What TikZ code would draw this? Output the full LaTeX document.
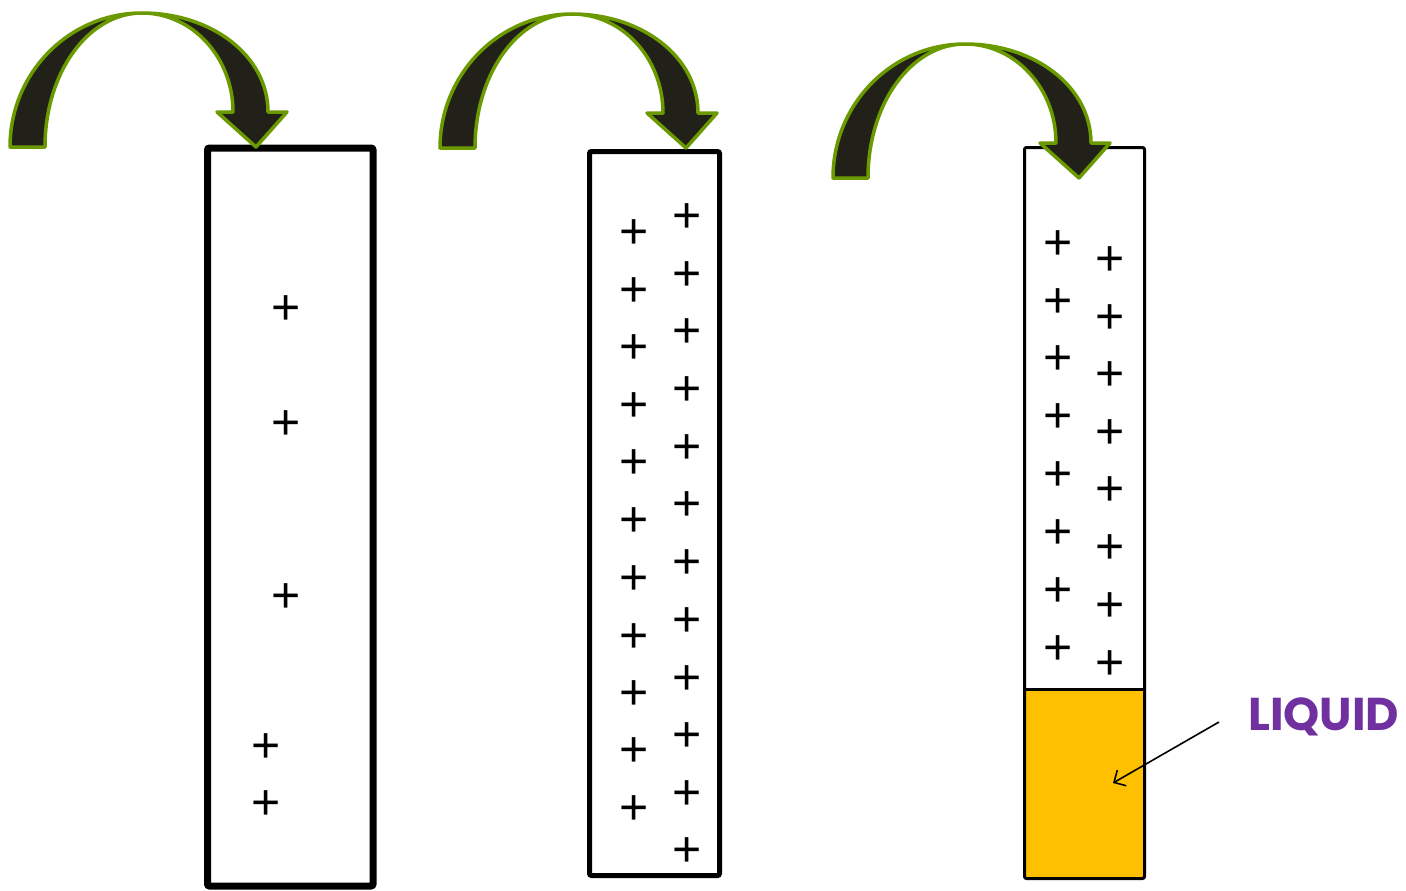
\documentclass[tikz,border=0pt]{standalone}
\usepackage{fontspec}
\setmainfont{Liberation Sans}
\newfontfamily\lqfont{Poppins}
\usetikzlibrary{arrows.meta}
\definecolor{arrowfill}{HTML}{21211A}
\definecolor{arrowedge}{HTML}{6A9A00}
\definecolor{liquidc}{HTML}{FFC000}
\definecolor{labelc}{HTML}{7030A0}
\tikzset{
  bigarrow/.pic={
    \draw[fill=arrowfill,draw=arrowedge,line width=3.5pt,line join=round]
      (10,147) .. controls (10,73) and (69,13) .. (142,13)
      .. controls (212,13) and (268,56) .. (268,112)
      -- (287,112) -- (256,147) -- (217,112) -- (233,112)
      .. controls (233,57) and (192,13) .. (142,13)
      .. controls (88,13) and (45,73) .. (45,147) -- cycle;
  },
  plussign/.style={font=\fontsize{50}{50}\selectfont, inner sep=0pt, anchor=center, yshift=-2pt},
  tube/.style={draw=black, rounded corners=2pt, inner sep=0pt, fill=white},
}
\begin{document}
\begin{tikzpicture}[x=1pt,y=-1pt]
\useasboundingbox[fill=white] (0,0) rectangle (1406,891);
% tubes
\node[tube, line width=7pt, minimum width=165.5pt, minimum height=738pt] (tube1) at (290.25,517) {};
\node[tube, line width=5pt, minimum width=130pt, minimum height=724pt] (tube2) at (654.5,513.5) {};
\node[fill=liquidc, inner sep=0pt, minimum width=120pt, minimum height=188.5pt] (liq) at (1084.5,784.25) {};
\node[tube, fill=none, line width=3pt, minimum width=120pt, minimum height=731pt] (tube3) at (1084.5,513) {};
\draw[line width=3pt] (liq.north west) -- (liq.north east);
% plus signs, tube 1
\foreach \x/\y [count=\i] in {286/308,286/423,286/596,266/746,266/803}
  \node[plussign] (a\i) at (\x,\y) {+};
% tube 2
\foreach \y [count=\i] in {232,290,347,405,462,520,578,636,693,750,808}
  \node[plussign] (bl\i) at (634,\y) {+};
\foreach \y [count=\i] in {216,274,331,389,447,504,562,620,678,735,793,850}
  \node[plussign] (br\i) at (687,\y) {+};
% tube 3
\foreach \y [count=\i] in {243,301,358,416,474,532,590,648}
  \node[plussign] (cl\i) at (1058,\y) {+};
\foreach \y [count=\i] in {259,317,374,432,489,547,605,663}
  \node[plussign] (cr\i) at (1110,\y) {+};
% curved arrows
\pic at (0,0) {bigarrow};
\pic at (430,1) {bigarrow};
\pic at (823,31) {bigarrow};
% label
\node[text=labelc, font=\lqfont\bfseries\fontsize{46}{46}\selectfont, anchor=west, inner sep=0pt] (lbl) at (1248,717) {LIQUID};
\coordinate (lqstart) at (1219,722);
\coordinate (lqtip) at (1113,783);
\draw[line width=1.6pt, -{Straight Barb[length=9pt,width=18pt,line width=1.6pt]}] (lqstart) -- (lqtip);
\end{tikzpicture}
\end{document}
